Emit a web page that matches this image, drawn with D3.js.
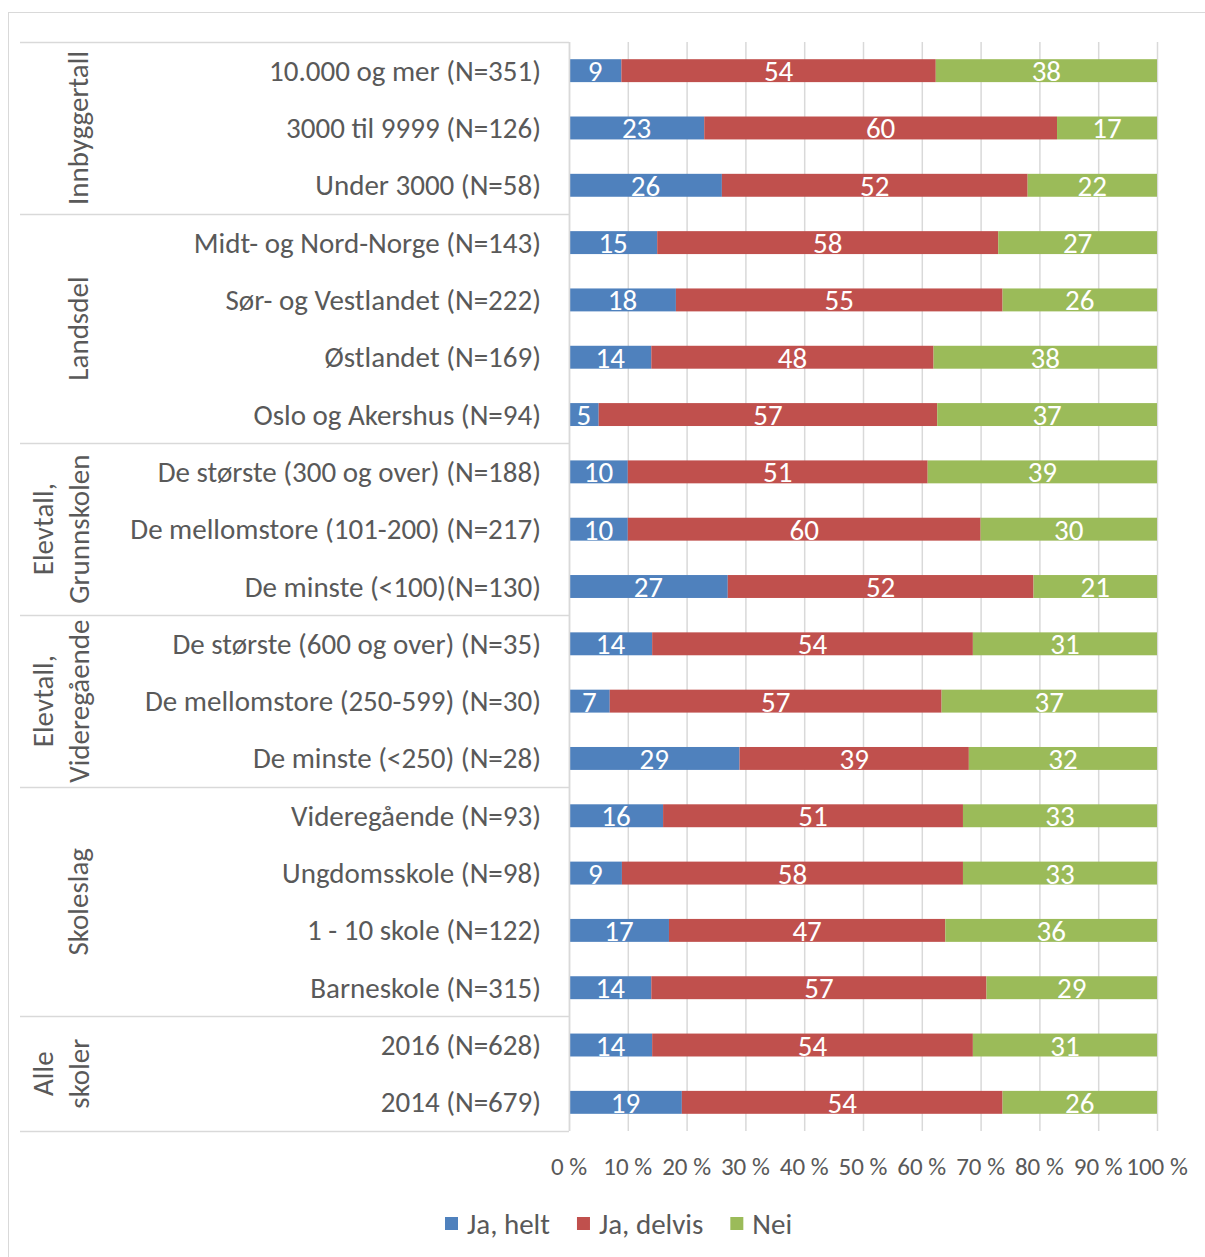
<!DOCTYPE html>
<html>
<head>
<meta charset="utf-8">
<script src="https://cdn.jsdelivr.net/npm/d3@7"></script>
<style>
  body { margin: 0; background: #fff; }
  svg text { font-family: Calibri, Carlito, Lato, sans-serif; }
</style>
</head>
<body>
<svg id="chart" width="1205" height="1257"></svg>
<script>
const categories = [
  '10.000 og mer (N=351)', '3000 til 9999 (N=126)', 'Under 3000 (N=58)',
  'Midt- og Nord-Norge (N=143)', 'Sør- og Vestlandet (N=222)', 'Østlandet (N=169)', 'Oslo og Akershus (N=94)',
  'De største (300 og over) (N=188)', 'De mellomstore (101-200) (N=217)', 'De minste (<100)(N=130)',
  'De største (600 og over) (N=35)', 'De mellomstore (250-599) (N=30)', 'De minste (<250) (N=28)',
  'Videregående (N=93)', 'Ungdomsskole (N=98)', '1 - 10 skole (N=122)', 'Barneskole (N=315)',
  '2016 (N=628)', '2014 (N=679)'
];
const jaHelt   = [9, 23, 26, 15, 18, 14, 5, 10, 10, 27, 14, 7, 29, 16, 9, 17, 14, 14, 19];
const jaDelvis = [54, 60, 52, 58, 55, 48, 57, 51, 60, 52, 54, 57, 39, 51, 58, 47, 57, 54, 54];
const nei      = [38, 17, 22, 27, 26, 38, 37, 39, 30, 21, 31, 37, 32, 33, 33, 36, 29, 31, 26];

const groupNames = [['Innbyggertall'], ['Landsdel'], ['Elevtall,', 'Grunnskolen'],
  ['Elevtall,', 'Videregående'], ['Skoleslag'], ['Alle', 'skoler']];
const groupSizes = [3, 4, 3, 3, 4, 2];

const seriesNames = ['Ja, helt', 'Ja, delvis', 'Nei'];
const colors = ['#4f81bd', '#c0504d', '#9bbb59'];
const xTicks = [0, 0.1, 0.2, 0.3, 0.4, 0.5, 0.6, 0.7, 0.8, 0.9, 1];

const textColor = '#595959';
const gridColor = '#d9d9d9';

const rows = categories.map((c, i) => ({ cat: c, a: jaHelt[i], b: jaDelvis[i], c: nei[i] }));

const svg = d3.select('#chart');

// outer frame
svg.append('rect')
  .attr('x', 8.5).attr('y', 12.5)
  .attr('width', 1220).attr('height', 1260)
  .attr('fill', 'none').attr('stroke', gridColor);

const x = d3.scaleLinear().domain([0, 1]).range([569, 1157]);
const y = d3.scaleBand().domain(categories).range([42, 1131])
  .paddingInner(0.6).paddingOuter(0.3);

// gridlines
svg.append('g')
  .selectAll('line')
  .data(xTicks)
  .join('line')
  .attr('x1', d => x(d) + 0.5).attr('x2', d => x(d) + 0.5)
  .attr('y1', 42).attr('y2', 1131)
  .attr('stroke', gridColor).attr('stroke-width', 1.5);

// stacked bars
const stack = d3.stack().keys(['a', 'b', 'c']).offset(d3.stackOffsetExpand);
const stacked = stack(rows);

const layers = svg.append('g')
  .selectAll('g')
  .data(stacked)
  .join('g')
  .attr('fill', (d, i) => colors[i]);

layers.selectAll('rect')
  .data(d => d)
  .join('rect')
  .attr('x', d => x(d[0]))
  .attr('y', d => y(d.data.cat))
  .attr('width', d => x(d[1]) - x(d[0]))
  .attr('height', y.bandwidth());

layers.selectAll('text')
  .data((d, i) => d.map(s => ({ s, key: d.key })))
  .join('text')
  .attr('x', d => (x(d.s[0]) + x(d.s[1])) / 2)
  .attr('y', d => y(d.s.data.cat) + y.bandwidth() / 2 + 10.5)
  .attr('text-anchor', 'middle')
  .attr('fill', '#fff')
  .attr('font-size', 29)
  .text(d => d.s.data[d.key]);

// category axis
const step = y.step();
const axisG = svg.append('g');
axisG.append('line')
  .attr('x1', 569.5).attr('x2', 569.5)
  .attr('y1', 42).attr('y2', 1131)
  .attr('stroke', gridColor).attr('stroke-width', 1.5);

axisG.selectAll('text.cat')
  .data(categories)
  .join('text')
  .attr('class', 'cat')
  .attr('x', 541)
  .attr('y', d => y(d) + y.bandwidth() / 2 + 10)
  .attr('text-anchor', 'end')
  .attr('fill', textColor)
  .attr('font-size', 29)
  .text(d => d);

// group separators and labels
let start = 0;
const bounds = [0];
groupSizes.forEach(n => { start += n; bounds.push(start); });
const boundY = i => i < categories.length
  ? y(categories[i]) + y.bandwidth() / 2 - step / 2
  : y(categories[i - 1]) + y.bandwidth() / 2 + step / 2;

axisG.selectAll('line.sep')
  .data(bounds)
  .join('line')
  .attr('class', 'sep')
  .attr('x1', 20).attr('x2', 569)
  .attr('y1', d => Math.round(boundY(d)) + 0.5)
  .attr('y2', d => Math.round(boundY(d)) + 0.5)
  .attr('stroke', gridColor).attr('stroke-width', 1.5);

groupNames.forEach((lines, gi) => {
  const cy = (boundY(bounds[gi]) + boundY(bounds[gi + 1])) / 2;
  const cx = lines.length === 1 ? 78 : 43;
  const t = axisG.append('text')
    .attr('transform', `translate(${cx},${cy}) rotate(-90)`)
    .attr('text-anchor', 'middle')
    .attr('dominant-baseline', 'central')
    .attr('fill', textColor)
    .attr('font-size', 29);
  lines.forEach((l, li) => {
    t.append('tspan').attr('x', 0).attr('dy', li === 0 ? 0 : 36).text(l);
  });
});

// x axis labels
svg.append('g')
  .selectAll('text')
  .data(xTicks)
  .join('text')
  .attr('x', d => x(d))
  .attr('y', 1175)
  .attr('text-anchor', 'middle')
  .attr('fill', textColor)
  .attr('font-size', 25)
  .text(d => Math.round(d * 100) + ' %');

// legend
const legend = svg.append('g');
let lx = 445;
seriesNames.forEach((name, i) => {
  legend.append('rect')
    .attr('x', lx).attr('y', 1217)
    .attr('width', 13).attr('height', 13)
    .attr('fill', colors[i]);
  const t = legend.append('text')
    .attr('x', lx + 22).attr('y', 1234)
    .attr('fill', textColor)
    .attr('font-size', 29)
    .text(name);
  lx += 22 + t.node().getComputedTextLength() + 27;
});
</script>
</body>
</html>
